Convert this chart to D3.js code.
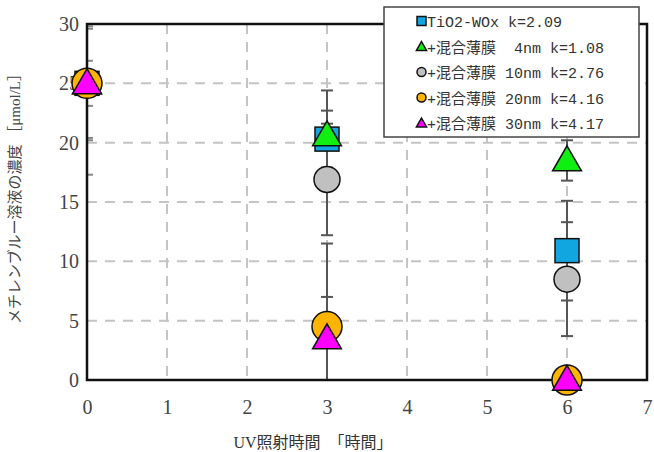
<!DOCTYPE html>
<html>
<head>
<meta charset="utf-8">
<script src="https://cdn.jsdelivr.net/npm/d3@7"></script>
<style>
  body { margin: 0; background: #fff; }
  svg { display: block; }
  .serif { font-family: "Liberation Serif", "DejaVu Serif", "Noto Sans CJK JP", serif; }
</style>
</head>
<body>
<svg class="chart"></svg>
<script>
// data
var hours = [0, 3, 6];
var seriesNames = ["TiO2-WOx k=2.09", "+混合薄膜\u00a0\u00a04nm k=1.08", "+混合薄膜 10nm k=2.76", "+混合薄膜 20nm k=4.16", "+混合薄膜 30nm k=4.17"];
var tio2Values = [25, 20.3, 10.9];
var film4Values = [25, 20.6, 18.5];
var film10Values = [25, 16.9, 8.5];
var film20Values = [25, 4.5, 0];
var film30Values = [25, 3.5, 0];
var tio2Err = [4.6, 2.4, 4.2];
var film4Err = [1.9, 3.8, 1.7];
var film10Err = [7.7, 4.7, 4.8];
var film20Err = [0, 7.0, 0];
var film30Err = [4.8, 3.5, 0];
var xTicks = [0, 1, 2, 3, 4, 5, 6, 7];
var yTicks = [0, 5, 10, 15, 20, 25, 30];

var series = [
    {name: seriesNames[0], values: tio2Values, err: tio2Err, shape: "square", color: "#12a6e0"},
    {name: seriesNames[1], values: film4Values, err: film4Err, shape: "triangle", color: "#11ee11"},
    {name: seriesNames[2], values: film10Values, err: film10Err, shape: "circle", color: "#c0c0c0"},
    {name: seriesNames[3], values: film20Values, err: film20Err, shape: "circle", color: "#ffb400"},
    {name: seriesNames[4], values: film30Values, err: film30Err, shape: "triangle", color: "#ff00ff"}
];

var width = 654, height = 452;
var margin = {top: 24, right: 7, bottom: 72, left: 87};
var plotW = width - margin.left - margin.right;
var plotH = height - margin.top - margin.bottom;

var x = d3.scaleLinear().domain([0, 7]).range([0, plotW]);
var y = d3.scaleLinear().domain([0, 30]).range([plotH, 0]);

var svg = d3.select(".chart")
    .attr("width", width)
    .attr("height", height);

var g = svg.append("g")
    .attr("transform", "translate(" + margin.left + "," + margin.top + ")");

// dashed grid
g.selectAll(".hgrid")
    .data(yTicks.filter(function(d) { return d > 0 && d < 30; }))
    .enter().append("line")
    .attr("x1", 0).attr("x2", plotW)
    .attr("y1", function(d) { return y(d); })
    .attr("y2", function(d) { return y(d); })
    .attr("stroke", "#c4c4c4")
    .attr("stroke-width", 2)
    .attr("stroke-dasharray", "10,8");

g.selectAll(".vgrid")
    .data(xTicks.filter(function(d) { return d > 0 && d < 7; }))
    .enter().append("line")
    .attr("y1", 0).attr("y2", plotH)
    .attr("x1", function(d) { return x(d); })
    .attr("x2", function(d) { return x(d); })
    .attr("stroke", "#c4c4c4")
    .attr("stroke-width", 2)
    .attr("stroke-dasharray", "10,8");

// error bars
var clip = function(v) { return Math.max(0, Math.min(30, v)); };
series.forEach(function(s) {
    hours.forEach(function(h, i) {
        var e = s.err[i];
        if (e === 0) return;
        var hi = s.values[i] + e, lo = s.values[i] - e;
        var col = h === 0 ? "#888" : "#555";
        g.append("line")
            .attr("x1", x(h)).attr("x2", x(h))
            .attr("y1", y(clip(hi))).attr("y2", y(clip(lo)))
            .attr("stroke", col).attr("stroke-width", 2);
        [hi, lo].forEach(function(v) {
            if (v < 0 || v > 30) return;
            g.append("line")
                .attr("x1", x(h) - (h === 0 ? 0 : 6)).attr("x2", x(h) + 6)
                .attr("y1", y(v)).attr("y2", y(v))
                .attr("stroke", col).attr("stroke-width", 2);
        });
    });
});

// frame
g.append("rect")
    .attr("width", plotW).attr("height", plotH)
    .attr("fill", "none")
    .attr("stroke", "#111")
    .attr("stroke-width", 2.5);

// axes
var xAxis = g.append("g")
    .attr("transform", "translate(0," + plotH + ")")
    .call(d3.axisBottom(x).tickValues(xTicks).tickFormat(d3.format("d")).tickSize(0).tickPadding(20));
xAxis.select(".domain").remove();

var yAxis = g.append("g")
    .call(d3.axisLeft(y).tickValues(yTicks).tickFormat(d3.format("d")).tickSize(0).tickPadding(8));
yAxis.select(".domain").remove();

g.selectAll(".tick text")
    .style("font-family", "'Liberation Serif', 'DejaVu Serif', serif")
    .style("font-size", "20px")
    .attr("fill", "#444");

// markers
var tri = d3.symbol().type(d3.symbolTriangle).size(360);
series.forEach(function(s) {
    var pts = g.append("g").selectAll("path")
        .data(hours.map(function(h, i) { return {h: h, v: s.values[i]}; }))
        .enter();
    if (s.shape === "square") {
        pts.append("rect")
            .attr("x", function(d) { return x(d.h) - 12; })
            .attr("y", function(d) { return y(d.v) - 12; })
            .attr("width", 24).attr("height", 24)
            .attr("fill", s.color).attr("stroke", "#111").attr("stroke-width", 1.5);
    } else if (s.shape === "circle") {
        pts.append("circle")
            .attr("cx", function(d) { return x(d.h); })
            .attr("cy", function(d) { return y(d.v); })
            .attr("r", s.color === "#c0c0c0" ? 13 : 15)
            .attr("fill", s.color).attr("stroke", "#111").attr("stroke-width", 1.5);
    } else {
        pts.append("path")
            .attr("d", tri)
            .attr("transform", function(d) { return "translate(" + x(d.h) + "," + (y(d.v) + 2) + ")"; })
            .attr("fill", s.color).attr("stroke", "#111").attr("stroke-width", 1.5);
    }
});

// axis titles
svg.append("text")
    .attr("x", 313).attr("y", 448)
    .attr("text-anchor", "middle")
    .attr("class", "serif")
    .style("font-size", "16px")
    .attr("fill", "#333")
    .text("UV照射時間　「時間」");

svg.append("text")
    .attr("transform", "translate(20,195) rotate(-90)")
    .attr("text-anchor", "middle")
    .attr("class", "serif")
    .style("font-size", "15px")
    .attr("fill", "#444")
    .text("メチレンブルー溶液の濃度 ［μmol/L］");

// legend
var legend = svg.append("g").attr("transform", "translate(384,7)");
legend.append("rect")
    .attr("width", 255).attr("height", 130)
    .attr("fill", "#fff")
    .attr("stroke", "#444")
    .attr("stroke-width", 1.5);

var rows = legend.selectAll(".row")
    .data(series)
    .enter().append("g")
    .attr("transform", function(d, i) { return "translate(0," + (14 + i * 25.5) + ")"; });

rows.each(function(s) {
    var r = d3.select(this);
    if (s.shape === "square") {
        r.append("rect").attr("x", 33).attr("y", -4.5).attr("width", 9).attr("height", 9)
            .attr("fill", s.color).attr("stroke", "#111").attr("stroke-width", 1.5);
    } else if (s.shape === "circle") {
        r.append("circle").attr("cx", 37.5).attr("cy", 0).attr("r", 4.5)
            .attr("fill", s.color).attr("stroke", "#111").attr("stroke-width", 1.5);
    } else {
        r.append("path").attr("d", d3.symbol().type(d3.symbolTriangle).size(45))
            .attr("transform", "translate(37.5,1)")
            .attr("fill", s.color).attr("stroke", "#111").attr("stroke-width", 1.5);
    }
});

rows.append("text")
    .attr("x", 43)
    .attr("y", 6)
    .style("font-family", "'Liberation Mono', 'Noto Sans CJK JP', monospace")
    .style("font-size", "15px")
    .attr("fill", "#333")
    .text(function(d) { return d.name; });
</script>
</body>
</html>
